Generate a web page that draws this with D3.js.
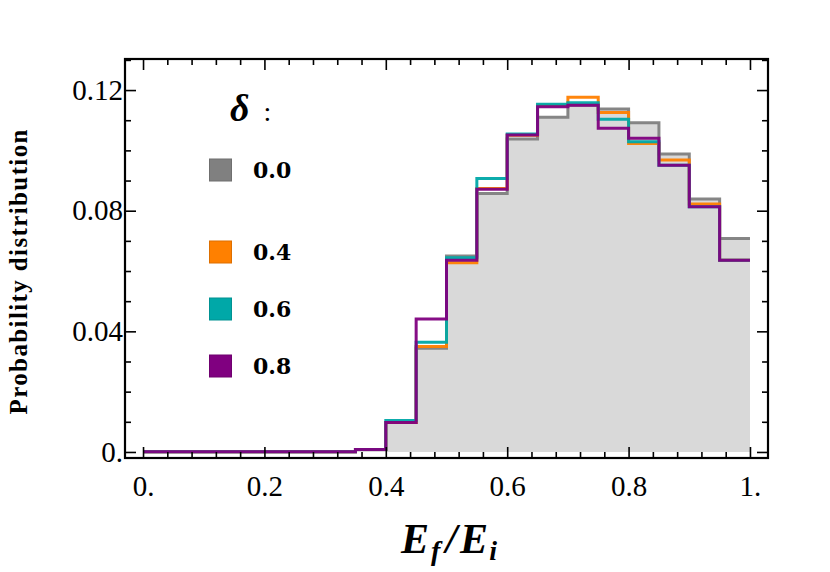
<!DOCTYPE html>
<html><head><meta charset="utf-8">
<script src="https://cdn.jsdelivr.net/npm/d3@7"></script>
<style>body{margin:0;background:#fff}svg{display:block}</style>
</head><body><svg id="c" width="830" height="572"></svg>
<script>
// ---- data ----
const binEdges = [0,0.05,0.1,0.15,0.2,0.25,0.3,0.35,0.4,0.45,0.5,0.55,0.6,0.65,0.7,0.75,0.8,0.85,0.9,0.95,1.0];
const deltaLabels = ["0.0","0.4","0.6","0.8"];
const seriesColors = ["#808080","#ff8000","#00a8a8","#800080"];
const vals00 = [0.0001,0.0001,0.0001,0.0001,0.0001,0.0001,0.0001,0.0008,0.0098,0.0344,0.0650,0.0857,0.1038,0.1110,0.1150,0.1137,0.1092,0.0988,0.0839,0.0708];
const vals04 = [0.0001,0.0001,0.0001,0.0001,0.0001,0.0001,0.0001,0.0008,0.0098,0.0350,0.0627,0.0874,0.1050,0.1150,0.1176,0.1126,0.1023,0.0968,0.0822,0.0636];
const vals06 = [0.0001,0.0001,0.0001,0.0001,0.0001,0.0001,0.0001,0.0008,0.0104,0.0364,0.0644,0.0907,0.1054,0.1153,0.1158,0.1103,0.1029,0.0951,0.0813,0.0636];
const vals08 = [0.0001,0.0001,0.0001,0.0001,0.0001,0.0001,0.0001,0.0008,0.0098,0.0441,0.0636,0.0871,0.1051,0.1145,0.1150,0.1073,0.1040,0.0951,0.0813,0.0636];
const xMajor = [0,0.2,0.4,0.6,0.8,1.0];
const xMajorLabels = ["0.","0.2","0.4","0.6","0.8","1."];
const yMajor = [0,0.04,0.08,0.12];
const yMajorLabels = ["0.","0.04","0.08","0.12"];
const series = [vals00, vals04, vals06, vals08];

// ---- chart ----
const svg = d3.select("#c");
const L=125, R=768, T=59, B=458;
const x = d3.scaleLinear().domain([-0.0297,1.0297]).range([L,R]);
const y = d3.scaleLinear().domain([-0.002,0.1303]).range([B,T]);
const serif = "'Liberation Serif','Times New Roman',serif";

function pts(v){ const p = v.map((d,i)=>[binEdges[i], d]); p.push([binEdges[binEdges.length-1], v[v.length-1]]); return p; }

// fill under delta=0
const area = d3.area().curve(d3.curveStepAfter).x(d=>x(d[0])).y0(y(0)).y1(d=>y(d[1]));
svg.append("path").attr("d", area(pts(vals00))).attr("fill","#d9d9d9");

const line = d3.line().curve(d3.curveStepAfter).x(d=>x(d[0])).y(d=>y(d[1]));
series.forEach((v,i)=>{
  svg.append("path").attr("d", line(pts(v))).attr("fill","none")
    .attr("stroke", seriesColors[i]).attr("stroke-width",3).attr("stroke-opacity",0.95);
});

// ticks (inward on all sides)
const xMinor = d3.range(0,1.0001,0.04).filter(t=>!xMajor.some(m=>Math.abs(m-t)<1e-6));
const yMinor = d3.range(0,0.1301,0.01).filter(t=>!yMajor.some(m=>Math.abs(m-t)<1e-6));
function styleAxis(g){ g.select(".domain").remove(); g.selectAll(".tick line").attr("stroke","#000").attr("stroke-width",1.6); }
svg.append("g").attr("transform",`translate(0,${B})`)
  .call(d3.axisBottom(x).tickValues(xMajor).tickSize(-11).tickPadding(17).tickFormat((d,i)=>xMajorLabels[i]))
  .call(styleAxis).call(g=>g.selectAll("text").attr("font-family",serif).attr("font-size",29).attr("fill","#000"));
svg.append("g").attr("transform",`translate(0,${B})`).call(d3.axisBottom(x).tickValues(xMinor).tickSize(-6).tickFormat("")).call(styleAxis);
svg.append("g").attr("transform",`translate(0,${T})`).call(d3.axisTop(x).tickValues(xMajor).tickSize(-11).tickFormat("")).call(styleAxis);
svg.append("g").attr("transform",`translate(0,${T})`).call(d3.axisTop(x).tickValues(xMinor).tickSize(-6).tickFormat("")).call(styleAxis);
svg.append("g").attr("transform",`translate(${L},0)`)
  .call(d3.axisLeft(y).tickValues(yMajor).tickSize(-11).tickPadding(2).tickFormat((d,i)=>yMajorLabels[i]))
  .call(styleAxis).call(g=>g.selectAll("text").attr("font-family",serif).attr("font-size",29).attr("fill","#000"));
svg.append("g").attr("transform",`translate(${L},0)`).call(d3.axisLeft(y).tickValues(yMinor).tickSize(-6).tickFormat("")).call(styleAxis);
svg.append("g").attr("transform",`translate(${R},0)`).call(d3.axisRight(y).tickValues(yMajor).tickSize(-11).tickFormat("")).call(styleAxis);
svg.append("g").attr("transform",`translate(${R},0)`).call(d3.axisRight(y).tickValues(yMinor).tickSize(-6).tickFormat("")).call(styleAxis);

svg.append("rect").attr("x",L).attr("y",T).attr("width",R-L).attr("height",B-T)
  .attr("fill","none").attr("stroke","#000").attr("stroke-width",2.2);

// axis titles
svg.append("text").attr("transform","translate(27,272) rotate(-90)").attr("text-anchor","middle")
  .attr("font-family",serif).attr("font-weight","bold").attr("font-size",25)
  .attr("textLength",285).attr("lengthAdjust","spacing").text("Probability distribution");
const xl = svg.append("text").attr("x",449).attr("y",553).attr("text-anchor","middle")
  .attr("font-family",serif).attr("font-weight","bold").attr("font-style","italic").attr("font-size",42);
xl.append("tspan").text("E");
xl.append("tspan").attr("font-size",28).attr("dy",7).attr("dx",2).text("f");
xl.append("tspan").attr("dy",-7).attr("dx",5).text("/");
xl.append("tspan").attr("dx",3).text("E");
xl.append("tspan").attr("font-size",28).attr("dy",7).attr("dx",1).text("i");

// legend
const lg = svg.append("text").attr("x",230).attr("y",121).attr("font-family",serif).attr("font-size",38);
lg.append("tspan").attr("font-weight","bold").attr("font-style","italic").text("δ");
lg.append("tspan").attr("font-size",28).attr("dx",14).text(":");
const legY = [170,252,309,366];
deltaLabels.forEach((t,i)=>{
  svg.append("rect").attr("x",209.5).attr("y",legY[i]-11).attr("width",22).attr("height",22)
    .attr("fill",seriesColors[i]).attr("stroke",d3.color(seriesColors[i]).darker(0.4)).attr("stroke-width",1);
  svg.append("text").attr("x",253).attr("y",legY[i]+8).attr("font-family","'DejaVu Serif',serif").attr("font-weight","bold")
    .attr("font-size",22).text(t);
});
</script></body></html>
